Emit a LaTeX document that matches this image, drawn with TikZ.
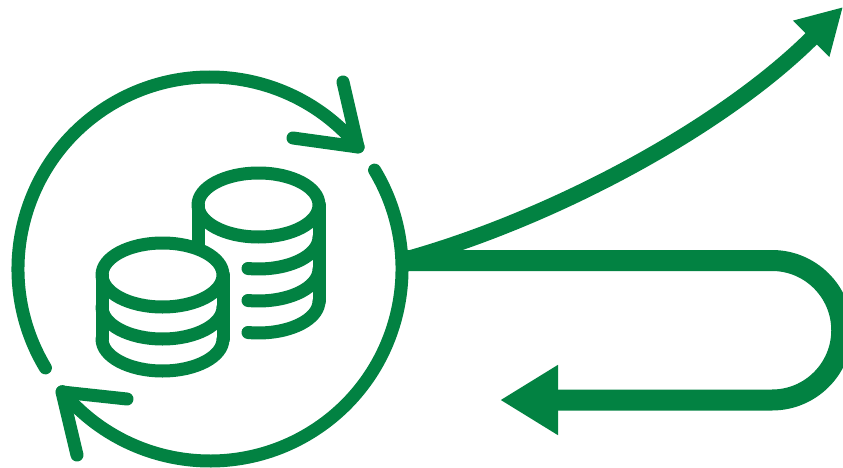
\documentclass[tikz,border=0pt]{standalone}
\usepackage{tikz}
\usetikzlibrary{arrows.meta}
\definecolor{coinGreen}{RGB}{2,130,66}
\tikzset{
  icon/.style={draw=coinGreen, line width=13pt, line cap=round, line join=round},
  flow/.style={draw=coinGreen, line width=21pt}
}

\begin{document}
\begin{tikzpicture}[x=1pt, y=1pt]
\clip (0,0) rectangle (843,467);
\coordinate (wheel) at (210,198);

% Cycle arcs
\draw[icon] (wheel) ++(211:192) arc[start angle=211, end angle=39.5, radius=192];
\draw[icon] (wheel) ++(31:192) arc[start angle=31, end angle=-140.3, radius=192];
\draw[icon] (343,385) -- (358,320) -- (293,329);
\draw[icon] (127,68) -- (62,75) -- (77,12);

% Back stack
\draw[icon] (258.5,262) ellipse[x radius=60.5, y radius=32];
\draw[icon] (198,262) -- (198,220);
\draw[icon] (319,262) -- (319,166);
\foreach \y in {198.5,166.5,134.5}
  \draw[icon] (248,\y) arc[start angle=-100, end angle=0, x radius=60.5, y radius=32];

% Front stack
\draw[icon] (162.5,192) ellipse[x radius=60.5, y radius=32];
\draw[icon] (102,192) -- (102,128);
\draw[icon] (223,192) -- (223,128);
\foreach \y in {160,128}
  \draw[icon] (102,\y) arc[start angle=180, end angle=360, x radius=60.5, y radius=32];

% Outgoing arrows
\coordinate (branch) at (402,206.5);
\coordinate (uptip) at (843,460);
\coordinate (backtip) at (500,67);
\draw[draw=coinGreen, line width=16pt, -{Triangle[length=45pt, width=48pt, fill=coinGreen]}]
  (branch) .. controls (550,247) and (722,339) .. (uptip);
\draw[flow, -{Triangle[length=58pt, width=66pt, fill=coinGreen]}]
  (branch) -- (772,206.5) arc[start angle=90, end angle=-90, radius=69.75] -- (backtip);
\end{tikzpicture}
\end{document}
